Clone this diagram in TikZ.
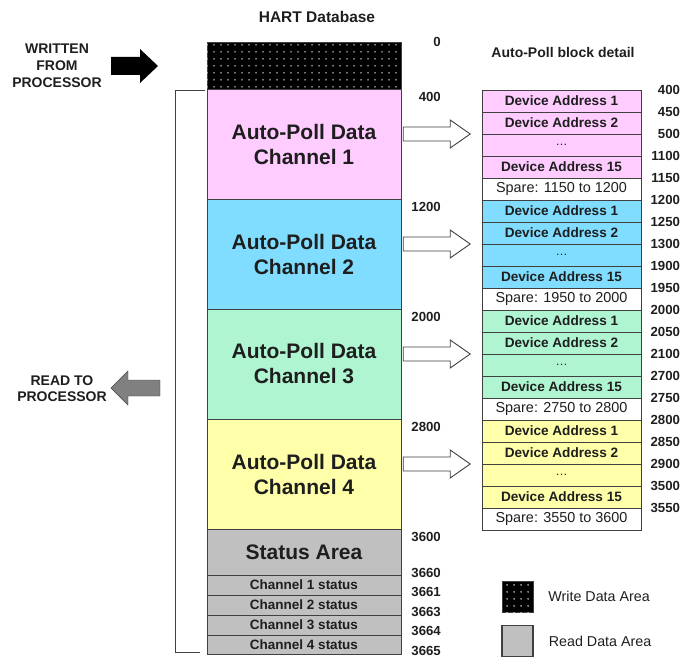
\documentclass[tikz,border=0pt]{standalone}
\usepackage{fontspec}
\setmainfont{Liberation Sans}
\usetikzlibrary{positioning,patterns.meta}

\definecolor{chpink}{HTML}{FFCCFF}
\definecolor{chblue}{HTML}{80DDFF}
\definecolor{chgreen}{HTML}{B0F5D2}
\definecolor{chyellow}{HTML}{FFFFAA}
\definecolor{readgray}{HTML}{C0C0C0}
\definecolor{linegray}{HTML}{404040}
\definecolor{textdark}{HTML}{1E1E1E}
\definecolor{arrowgray}{HTML}{808080}

\begin{document}
\begin{tikzpicture}[
    x=1pt, y=-1pt,
    every node/.style={text=textdark},
    block/.style={rectangle, draw=linegray, minimum width=194pt, inner sep=0pt, align=center},
    chan/.style={block, minimum height=110pt, font=\fontsize{21}{25}\selectfont\bfseries},
    statrow/.style={block, fill=readgray, minimum height=19.5pt, font=\fontsize{13.5}{15}\selectfont\bfseries},
    devrow/.style={rectangle, draw=linegray, minimum width=159pt, minimum height=21.6pt, inner sep=0pt, font=\fontsize{13.6}{15}\selectfont\bfseries},
    sparerow/.style={devrow, fill=white, font=\fontsize{14.4}{16}\selectfont},
    addr/.style={inner sep=0pt, anchor=east, font=\fontsize{13.2}{15}\selectfont\bfseries},
    caption/.style={align=center, font=\fontsize{14}{17}\selectfont\bfseries},
    legtext/.style={inner sep=0pt, font=\fontsize{14.3}{16}\selectfont},
    hollow/.style={draw=linegray, fill=white, line width=0.9pt},
    dotted area/.style={fill=black, postaction={pattern={Dots[distance=6.5pt, radius=0.8pt]}, pattern color=white}}
]
    \useasboundingbox (0,0) rectangle (683,658);

    % titles and side captions
    \node[caption, font=\fontsize{15.5}{17}\selectfont\bfseries] (title) at (317,17) {HART Database};
    \node[caption] (detail) at (563,52) {Auto-Poll block detail};
    \node[caption] (written) at (57,66) {WRITTEN\\FROM\\PROCESSOR};
    \node[caption, font=\fontsize{14}{16}\selectfont\bfseries] (readto) at (62,389) {READ TO\\PROCESSOR};

    \fill[black] (111,57) -- (140,57) -- (140,49) -- (158,66) -- (140,83) -- (140,75) -- (111,75) -- cycle;
    \filldraw[fill=arrowgray, draw=linegray] (160,380) -- (128,380) -- (128,371) -- (111,388) -- (128,405) -- (128,396) -- (160,396) -- cycle;

    % main column
    \node[block, dotted area, minimum height=47pt] (wr) at (304,65.5) {};
    \node[addr] at (441,42) {0};

    \foreach \n/\col/\pT/\pA/\pB/\pC/\pD/\pN in {1/chpink/400/450/500/1100/1150/1200,
        2/chblue/1200/1250/1300/1900/1950/2000, 3/chgreen/2000/2050/2100/2700/2750/2800,
        4/chyellow/2800/2850/2900/3500/3550/3600} {
        \pgfmathsetmacro{\yt}{89+110*(\n-1)}
        \node[chan, fill=\col] (ch\n) at (304,\yt+55) {Auto-Poll Data\\Channel \n};
        \node[addr] at (441,\yt+8) {\pT};

        % detail block
        \node[devrow, fill=\col, anchor=north] (da1-\n) at (561.5,\yt+1) {Device Address 1};
        \node[devrow, fill=\col, below=0pt of da1-\n] (da2-\n) {Device Address 2};
        \node[devrow, fill=\col, below=0pt of da2-\n, font=\fontsize{12}{14}\selectfont] (gap-\n) {\dots};
        \node[devrow, fill=\col, below=0pt of gap-\n] (da15-\n) {Device Address 15};
        \node[sparerow, below=0pt of da15-\n] (spare-\n) {Spare: \pD\ to \pN};

        \node[addr] at ([xshift=39pt]da1-\n.north east) {\pT};
        \node[addr] at ([xshift=39pt]da1-\n.south east) {\pA};
        \node[addr] at ([xshift=39pt]da2-\n.south east) {\pB};
        \node[addr] at ([xshift=39pt]gap-\n.south east) {\pC};
        \node[addr] at ([xshift=39pt]da15-\n.south east) {\pD};

        \draw[hollow] ([shift={(2,-17)}]ch\n.east) -- ++(47,0) -- ++(0,-7) -- ++(20,14)
            -- ++(-20,14) -- ++(0,-7) -- ++(-47,0) -- cycle;
    }

    % status area
    \node[block, fill=readgray, minimum height=46pt, font=\fontsize{21}{24}\selectfont\bfseries] (stat) at (304,552) {Status Area};
    \node[statrow, below=0pt of stat] (st1) {Channel 1 status};
    \node[statrow, below=0pt of st1] (st2) {Channel 2 status};
    \node[statrow, below=0pt of st2] (st3) {Channel 3 status};
    \node[statrow, below=0pt of st3] (st4) {Channel 4 status};

    \node[addr] at (441,537) {3600};
    \node[addr] at (441,573) {3660};
    \node[addr] at (441,592) {3661};
    \node[addr] at (441,612) {3663};
    \node[addr] at (441,631) {3664};
    \node[addr] at (441,651) {3665};

    % read bracket
    \draw[linegray] (205,90) -- (175,90) -- (175,652) -- (200,652);

    % legend
    \node[draw=linegray, dotted area, minimum size=31pt, inner sep=0pt] (wleg) at (517.5,596.5) {};
    \node[legtext, right=15pt of wleg] (wtxt) {Write Data Area};
    \node[draw=linegray, fill=readgray, line width=1.2pt, minimum size=31pt, inner sep=0pt] (rleg) at (517.5,641) {};
    \node[legtext, right=15pt of rleg] (rtxt) {Read Data Area};
\end{tikzpicture}
\end{document}
